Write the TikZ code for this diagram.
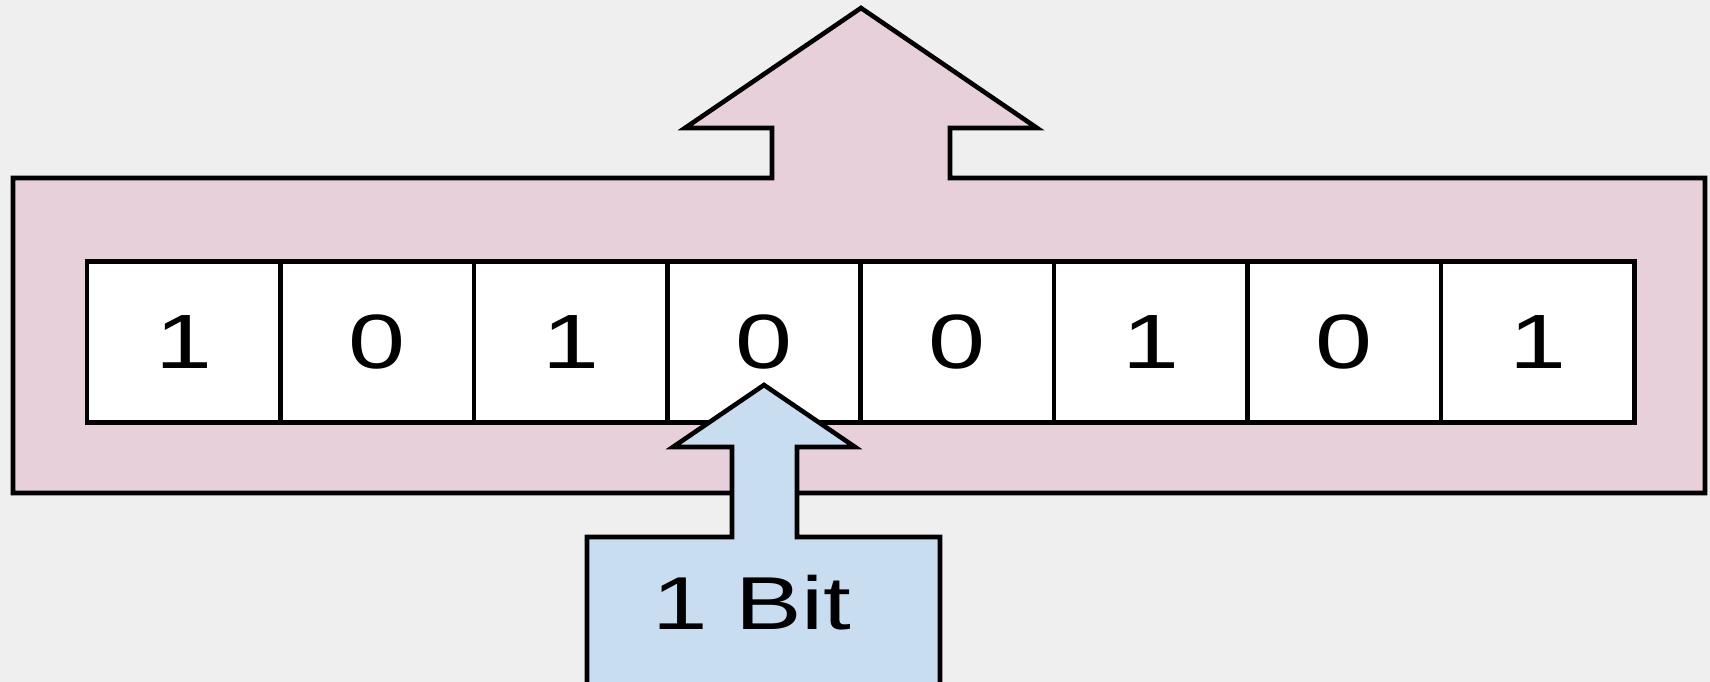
\documentclass[tikz,border=0pt]{standalone}
\usepackage{fontspec}
\setmainfont{Liberation Sans}
\newfontfamily\widefont[FakeStretch=1.33]{Liberation Sans}
\definecolor{bgcol}{RGB}{239,239,239}
\definecolor{pinkfill}{RGB}{232,208,219}
\definecolor{bluefill}{RGB}{200,222,240}
\tikzset{
  outline/.style={draw=black, line width=4.6pt, line join=miter},
  bitcell/.style={draw=black, fill=white, line width=4.6pt, minimum width=193.4pt, minimum height=161pt, inner sep=0pt, outer sep=0pt, font=\widefont\fontsize{77}{90}\selectfont, anchor=west},
  bitlabel/.style={font=\widefont\fontsize{75}{90}\selectfont, inner sep=0pt}
}
\begin{document}
\begin{tikzpicture}[x=1pt, y=-1pt]
\useasboundingbox (0,0) rectangle (1710,682);
\fill[bgcol] (0,0) rectangle (1710,682);
\clip (0,0) rectangle (1710,682);
% pink byte frame with upward arrow
\path[outline, fill=pinkfill] (13,178) -- (772,178) -- (772,128) -- (685,128) -- (861,8) -- (1037,128) -- (950,128) -- (950,178) -- (1705,178) -- (1705,493) -- (13,493) -- cycle;
% bit cells
\node[bitcell] (c1) at (87,342) {1};
\node[bitcell] (c2) at (c1.east) {0};
\node[bitcell] (c3) at (c2.east) {1};
\node[bitcell] (c4) at (c3.east) {0};
\node[bitcell] (c5) at (c4.east) {0};
\node[bitcell] (c6) at (c5.east) {1};
\node[bitcell] (c7) at (c6.east) {0};
\node[bitcell] (c8) at (c7.east) {1};
% blue bit box with upward arrow
\path[outline, fill=bluefill] (587,700) -- (587,537) -- (732,537) -- (732,447) -- (673,447) -- (764,385) -- (855,447) -- (797,447) -- (797,537) -- (940,537) -- (940,700) -- cycle;
\node[bitlabel] (bit) at (752,603) {1 Bit};
\end{tikzpicture}
\end{document}
